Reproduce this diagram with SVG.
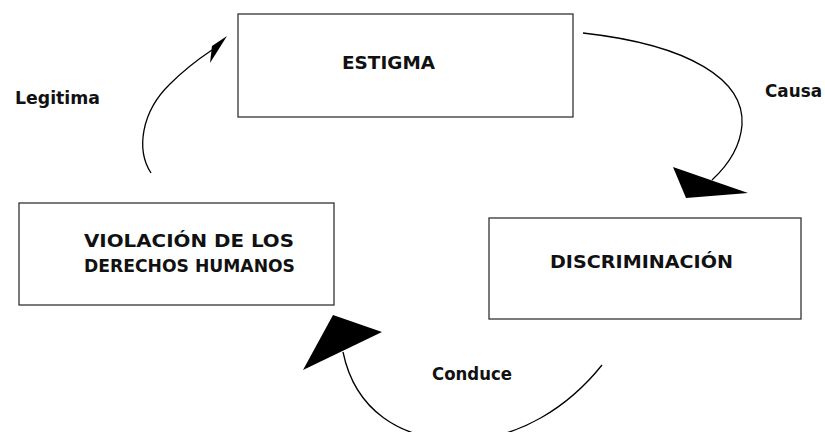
<svg xmlns="http://www.w3.org/2000/svg" width="825" height="432" viewBox="0 0 825 432">
<style>
.box{fill:#fff;stroke:#333;stroke-width:1.3}
.t{font-family:"DejaVu Sans","Liberation Sans",sans-serif;font-weight:bold;font-size:17px;fill:#111}
.c{fill:none;stroke:#000;stroke-width:1.3}
.h{fill:#000;stroke:none}
</style>
<rect width="825" height="432" fill="#fff"/>
<g id="estigma">
<rect class="box" x="238" y="14" width="335" height="103"/>
<text class="t" x="342" y="69" textLength="93" lengthAdjust="spacingAndGlyphs">ESTIGMA</text>
</g>
<g id="discriminacion">
<rect class="box" x="489" y="218" width="312" height="101"/>
<text class="t" x="550" y="268" textLength="183" lengthAdjust="spacingAndGlyphs">DISCRIMINACIÓN</text>
</g>
<g id="violacion">
<rect class="box" x="19" y="203" width="315" height="102"/>
<text class="t" x="84" y="247" textLength="210" lengthAdjust="spacingAndGlyphs">VIOLACIÓN DE LOS</text>
<text class="t" x="84" y="272" textLength="211" lengthAdjust="spacingAndGlyphs">DERECHOS HUMANOS</text>
</g>
<g id="connectors">
<path class="c" d="M583,33 C690,45 745,80 742,125 C740,150 725,168 712,180"/>
<polygon class="h" points="673,167 748,193 686,198"/>
<path class="c" d="M602,365 C570,405 520,440 460,440 C400,440 355,410 343,352"/>
<polygon class="h" points="333,315 382,332 303,370"/>
<path class="c" d="M151,173 C136,150 141,112 170,84 C187,67 200,58 212,50"/>
<polygon class="h" points="212,46 227,36 210,63"/>
<text class="t" x="15" y="104" textLength="85" lengthAdjust="spacingAndGlyphs">Legitima</text>
<text class="t" x="765" y="97" textLength="57" lengthAdjust="spacingAndGlyphs">Causa</text>
<text class="t" x="432" y="380" textLength="80" lengthAdjust="spacingAndGlyphs">Conduce</text>
</g>
</svg>
